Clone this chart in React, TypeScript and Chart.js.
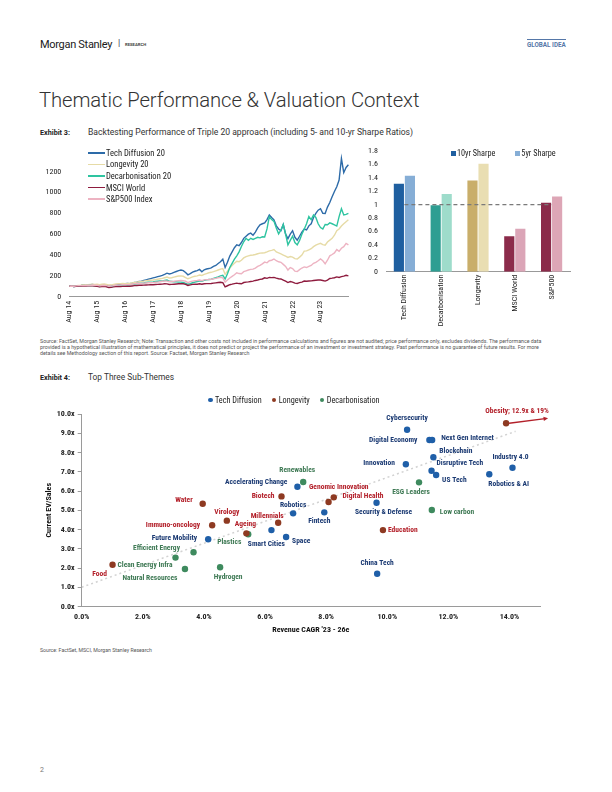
import React, { useEffect, useRef } from 'react';
import { Chart, registerables } from 'chart.js';

Chart.register(...registerables);

const COND = "'Liberation Sans Narrow', 'Roboto Condensed', 'Roboto', sans-serif";

// ---------------- Exhibit 3 (left): backtest index levels, monthly Aug 14 - Aug 24 ----------------
const monthNames = ['Jan', 'Feb', 'Mar', 'Apr', 'May', 'Jun', 'Jul', 'Aug', 'Sep', 'Oct', 'Nov', 'Dec'];
const lineLabels: string[] = [];
for (let i = 0; i <= 120; i++) {
  lineLabels.push(`${monthNames[(7 + i) % 12]} ${14 + Math.floor((7 + i) / 12)}`);
}
const lineYTicks = [0, 200, 400, 600, 800, 1000, 1200];

const techDiffusion20 = [
  100, 102, 98, 104, 106, 108, 112, 110, 114, 116, 118, 112,
  108, 105, 112, 115, 110, 102, 104, 108, 112, 114, 116, 120,
  124, 126, 125, 130, 136, 140, 146, 150, 156, 162, 168, 174,
  180, 186, 192, 198, 204, 214, 226, 218, 224, 234, 242, 250,
  256, 250, 232, 210, 222, 236, 244, 250, 262, 240, 258, 266,
  270, 276, 290, 300, 318, 336, 360, 280, 330, 390, 430, 470,
  497, 490, 520, 560, 580, 600, 610, 590, 620, 660, 690, 700,
  708, 740, 784, 760, 738, 680, 650, 633, 693, 600, 557, 600,
  633, 570, 542, 580, 620, 648, 640, 680, 700, 760, 800, 830,
  844, 800, 799, 860, 904, 960, 1010, 1055, 1120, 1326, 1190, 1240,
  1266,
];
const longevity20 = [
  100, 103, 101, 105, 108, 110, 114, 113, 116, 118, 120, 118,
  120, 116, 120, 122, 118, 112, 114, 118, 122, 124, 124, 126,
  125, 126, 128, 132, 136, 140, 144, 146, 150, 154, 156, 158,
  160, 164, 168, 172, 176, 182, 188, 180, 182, 188, 194, 198,
  200, 196, 184, 172, 180, 190, 196, 200, 208, 204, 214, 222,
  230, 234, 240, 248, 256, 264, 270, 215, 245, 275, 300, 320,
  340, 336, 350, 372, 385, 392, 398, 400, 405, 412, 418, 420,
  422, 430, 440, 445, 452, 430, 420, 410, 400, 390, 377, 385,
  380, 365, 362, 380, 400, 437, 440, 450, 460, 480, 495, 505,
  512, 500, 495, 525, 543, 560, 590, 633, 650, 678, 700, 720,
  738,
];
const decarbonisation20 = [
  100, 101, 98, 102, 104, 105, 108, 106, 108, 110, 108, 104,
  102, 98, 104, 106, 100, 94, 96, 100, 104, 106, 108, 110,
  112, 114, 112, 116, 120, 124, 128, 130, 132, 136, 138, 140,
  142, 146, 148, 150, 152, 156, 160, 148, 146, 144, 142, 140,
  140, 136, 128, 120, 126, 134, 140, 146, 152, 148, 156, 162,
  165, 168, 175, 182, 190, 200, 205, 170, 220, 280, 320, 360,
  392, 430, 482, 527, 560, 540, 560, 550, 560, 570, 565, 575,
  573, 650, 769, 740, 723, 660, 603, 640, 693, 600, 497, 540,
  580, 520, 497, 540, 600, 648, 700, 769, 740, 784, 760, 700,
  663, 650, 693, 690, 708, 700, 690, 678, 769, 844, 784, 790,
  799,
];
const msciWorld = [
  100, 101, 98, 100, 101, 101, 103, 102, 104, 104, 105, 102,
  100, 94, 97, 99, 95, 88, 90, 94, 97, 97, 98, 99,
  100, 100, 100, 103, 106, 108, 110, 110, 111, 112, 113, 114,
  115, 117, 118, 120, 121, 124, 123, 117, 118, 120, 122, 124,
  125, 124, 118, 108, 114, 118, 119, 120, 124, 120, 124, 125,
  125, 127, 130, 133, 136, 138, 135, 95, 105, 115, 120, 126,
  130, 126, 124, 136, 140, 142, 146, 150, 156, 160, 166, 170,
  181, 176, 185, 183, 185, 178, 172, 170, 160, 150, 136, 145,
  140, 130, 127, 135, 140, 150, 148, 150, 152, 155, 158, 160,
  160, 155, 150, 160, 175, 178, 182, 190, 185, 192, 198, 205,
  200,
];
const sp500Index = [
  100, 102, 100, 104, 106, 106, 108, 108, 110, 110, 112, 110,
  110, 104, 108, 110, 106, 100, 102, 106, 110, 111, 112, 114,
  115, 116, 116, 120, 124, 126, 128, 128, 130, 132, 134, 134,
  135, 138, 140, 144, 148, 152, 150, 144, 146, 148, 152, 154,
  155, 154, 148, 135, 144, 150, 154, 155, 160, 154, 162, 164,
  165, 168, 172, 176, 182, 186, 180, 140, 160, 180, 195, 210,
  230, 222, 220, 240, 248, 256, 262, 264, 275, 290, 300, 315,
  332, 325, 345, 350, 362, 345, 335, 330, 310, 290, 256, 280,
  270, 245, 241, 260, 275, 286, 280, 290, 300, 320, 330, 345,
  362, 345, 316, 350, 392, 405, 420, 452, 435, 465, 480, 512,
  497,
];
const lineSeriesNames = ['Tech Diffusion 20', 'Longevity 20', 'Decarbonisation 20', 'MSCI World', 'S&P500 Index'];
const lineSeriesColors = ['#2D6BA8', '#E6DBA6', '#2EC4A0', '#8E1B3E', '#EDB3C2'];
const lineSeriesData = [techDiffusion20, longevity20, decarbonisation20, msciWorld, sp500Index];

// ---------------- Exhibit 3 (right): Sharpe ratios ----------------
const sharpeCategories = ['Tech Diffusion', 'Decarbonisation', 'Longevity', 'MSCI World', 'S&P500'];
const sharpe10yr = [1.31, 0.99, 1.36, 0.53, 1.03];
const sharpe5yr = [1.43, 1.16, 1.61, 0.64, 1.12];
const sharpeReference = [1, 1, 1, 1, 1];
const sharpe10yrColors = ['#1F5FA0', '#2E9E92', '#C9AE6A', '#8B2B4A', '#8B2B4A'];
const sharpe5yrColors = ['#86AED6', '#9EDCCB', '#E9DEB2', '#DBA5B7', '#DDA6B6'];
const sharpeYTicks = [0, 0.2, 0.4, 0.6, 0.8, 1, 1.2, 1.4, 1.6, 1.8];

// ---------------- Exhibit 4: sub-themes scatter ----------------
const techNames = ['Cybersecurity', 'Digital Economy', 'Next Gen Internet', 'Blockchain', 'Innovation', 'Disruptive Tech', 'US Tech', 'Industry 4.0', 'Robotics & AI', 'Security & Defense', 'Fintech', 'Robotics', 'Accelerating Change', 'Smart Cities', 'Space', 'Future Mobility', 'China Tech'];
const techCagr = [10.65, 11.38, 11.47, 11.51, 10.61, 11.45, 11.6, 14.1, 13.34, 9.65, 7.94, 6.92, 7.06, 6.21, 6.69, 4.14, 9.67];
const techEvSales = [9.18, 8.65, 8.65, 7.75, 7.39, 7.05, 6.83, 7.21, 6.87, 5.39, 4.89, 4.84, 6.22, 3.97, 3.61, 3.49, 1.7];

const longevityNames = ['Obesity; 12.9x & 19%', 'Genomic Innovation', 'Digital Health', 'Education', 'Biotech', 'Millennials', 'Water', 'Virology', 'Immuno-oncology', 'Ageing', 'Food'];
const longevityCagr = [13.89, 8.25, 8.08, 9.86, 6.54, 6.43, 3.96, 4.75, 4.27, 5.39, 1.01];
const longevityEvSales = [9.52, 5.67, 5.43, 3.97, 5.72, 4.35, 5.34, 4.46, 4.22, 3.8, 2.17];

const decarbNames = ['Renewables', 'ESG Leaders', 'Low carbon', 'Plastics', 'Efficient Energy', 'Clean Energy Infra', 'Natural Resources', 'Hydrogen'];
const decarbCagr = [7.25, 11.04, 11.46, 5.45, 3.07, 3.66, 3.38, 4.53];
const decarbEvSales = [6.47, 6.45, 5.01, 3.75, 2.54, 2.82, 1.95, 2.04];

const trendCagr = [0, 14.2];
const trendEvSales = [1.0, 9.1];

const scatterXTicks = [0, 2, 4, 6, 8, 10, 12, 14];
const scatterYTicks = [0, 1, 2, 3, 4, 5, 6, 7, 8, 9, 10];

// label placement (pixel offset from the point, text alignment)
type Place = [number, number, CanvasTextAlign];
const techLabelPlace: Place[] = [
  [0, -12, 'center'], [-12, 0, 'right'], [9, -2, 'left'], [6, -6, 'left'], [-11, -1, 'right'],
  [5, -8, 'left'], [6, 5, 'left'], [-2, -11, 'center'], [-1, 10, 'left'], [7, 9, 'center'],
  [-5, 9, 'center'], [0, -8, 'center'], [-10, -5, 'right'], [-5, 14, 'center'], [6, 4, 'left'],
  [-11, -1, 'right'], [0, -11, 'center'],
];
const longevityLabelPlace: Place[] = [
  [11, -12, 'center'], [5, -10, 'center'], [14, -6, 'left'], [5, 0, 'left'], [-7, 0, 'right'],
  [-11, -7, 'center'], [-10, -4, 'right'], [0, -9, 'center'], [-12, 0, 'right'], [-1, -9, 'center'],
  [-13, 9, 'center'],
];
const decarbLabelPlace: Place[] = [
  [-6, -12, 'center'], [-8, 10, 'center'], [8, 2, 'left'], [-19, 8, 'center'], [-19, -9, 'center'],
  [-76, 13, 'left'], [-35, 9, 'center'], [8, 10, 'center'],
];

const exhibit3Source =
  'Source: FactSet, Morgan Stanley Research; Note: Transaction and other costs not included in performance calculations and figures are not audited; price performance only, excludes dividends. The performance data';
const exhibit3Source2 =
  'provided is a hypothetical illustration of mathematical principles, it does not predict or project the performance of an investment or investment strategy. Past performance is no guarantee of future results. For more';
const exhibit3Source3 = 'details see Methodology section of this report. Source: Factset, Morgan Stanley Research';

function LineChart() {
  const ref = useRef<HTMLCanvasElement | null>(null);
  useEffect(() => {
    if (!ref.current) return;
    const chart = new Chart(ref.current, {
      type: 'line',
      data: {
        labels: lineLabels,
        datasets: lineSeriesData.map((d, i) => ({
          label: lineSeriesNames[i],
          data: d,
          borderColor: lineSeriesColors[i],
          backgroundColor: lineSeriesColors[i],
          borderWidth: 1.4,
          pointRadius: 0,
          tension: 0,
          order: 5 - i,
        })),
      },
      options: {
        animation: false,
        responsive: false,
        layout: { padding: { top: 4, right: 5, left: 0, bottom: 0 } },
        plugins: { legend: { display: false }, tooltip: { enabled: false } },
        scales: {
          x: {
            grid: { display: false, drawTicks: false },
            border: { display: true, color: '#999' },
            ticks: {
              autoSkip: false,
              maxRotation: 90,
              minRotation: 90,
              padding: 4,
              color: '#222',
              font: { family: COND, size: 8 },
              callback: (_v: any, i: number) => (i % 12 === 0 && i <= 108 ? lineLabels[i] : ''),
            },
            afterFit: (s: any) => { s.height = 37.3; },
          },
          y: {
            min: 0,
            max: 1400,
            grid: { display: false, drawTicks: false },
            border: { display: false },
            afterBuildTicks: (s: any) => { s.ticks = lineYTicks.map((v) => ({ value: v })); },
            ticks: { padding: 8, color: '#222', font: { family: COND, size: 8 }, callback: (v: any) => String(v) },
            afterFit: (s: any) => { s.width = 29.3; },
          },
        },
      },
    });
    return () => chart.destroy();
  }, []);
  return <canvas ref={ref} width={322} height={196} style={{ position: 'absolute', left: 40, top: 138, width: 322, height: 196 }} />;
}

function BarChart() {
  const ref = useRef<HTMLCanvasElement | null>(null);
  useEffect(() => {
    if (!ref.current) return;
    const chart = new Chart(ref.current, {
      type: 'bar',
      data: {
        labels: sharpeCategories,
        datasets: [
          {
            type: 'line' as const,
            label: 'ref',
            data: sharpeReference,
            borderColor: '#7a7a7a',
            borderDash: [4, 3],
            borderWidth: 1.2,
            pointRadius: 0,
            order: 0,
          },
          {
            label: '10yr Sharpe',
            data: sharpe10yr,
            backgroundColor: sharpe10yrColors,
            categoryPercentage: 0.6,
            barPercentage: 0.92,
            order: 1,
          },
          {
            label: '5yr Sharpe',
            data: sharpe5yr,
            backgroundColor: sharpe5yrColors,
            categoryPercentage: 0.6,
            barPercentage: 0.92,
            order: 1,
          },
        ] as any,
      },
      options: {
        animation: false,
        responsive: false,
        layout: { padding: { top: 13, right: 12, left: 0, bottom: 0 } },
        plugins: { legend: { display: false }, tooltip: { enabled: false } },
        scales: {
          x: {
            grid: { display: false, drawTicks: false },
            border: { display: true, color: '#999' },
            ticks: {
              maxRotation: 90,
              minRotation: 90,
              padding: 3,
              color: '#222',
              font: { family: COND, size: 8 },
            },
            afterFit: (s: any) => { s.height = 66.3; },
          },
          y: {
            min: 0,
            max: 1.8,
            grid: { display: false, drawTicks: false },
            border: { display: false },
            afterBuildTicks: (s: any) => { s.ticks = sharpeYTicks.map((v) => ({ value: v })); },
            ticks: {
              padding: 8,
              color: '#222',
              font: { family: COND, size: 8 },
              callback: (v: any) => String(Math.round(Number(v) * 10) / 10),
            },
            afterFit: (s: any) => { s.width = 24; },
          },
        },
      },
    });
    return () => chart.destroy();
  }, []);
  return <canvas ref={ref} width={220} height={200} style={{ position: 'absolute', left: 362, top: 138, width: 220, height: 200 }} />;
}

const scatterGroups = [
  { names: techNames, place: techLabelPlace, labelColor: '#1B3A73' },
  { names: longevityNames, place: longevityLabelPlace, labelColor: '#B3202A' },
  { names: decarbNames, place: decarbLabelPlace, labelColor: '#3F7A55' },
];

const pointLabelPlugin = {
  id: 'pointLabels',
  afterDatasetsDraw(chart: any) {
    const ctx = chart.ctx as CanvasRenderingContext2D;
    scatterGroups.forEach((g, di) => {
      const meta = chart.getDatasetMeta(di);
      meta.data.forEach((pt: any, i: number) => {
        const [dx, dy, align] = g.place[i];
        ctx.save();
        ctx.font = `bold 7.5px ${COND}`;
        ctx.fillStyle = g.labelColor;
        ctx.textAlign = align;
        ctx.textBaseline = 'middle';
        ctx.fillText(g.names[i], pt.x + dx, pt.y + dy);
        ctx.restore();
      });
    });
    // off-scale arrow for the first longevity point (Obesity)
    const ob = chart.getDatasetMeta(1).data[0];
    if (ob) {
      const x0 = ob.x + 3;
      const y0 = ob.y;
      const x1 = ob.x + 42;
      const y1 = ob.y - 5;
      ctx.save();
      ctx.strokeStyle = '#B3202A';
      ctx.fillStyle = '#B3202A';
      ctx.lineWidth = 1.3;
      ctx.beginPath();
      ctx.moveTo(x0, y0);
      ctx.lineTo(x1 - 3, y1 + 0.4);
      ctx.stroke();
      const ang = Math.atan2(y1 - y0, x1 - x0);
      ctx.beginPath();
      ctx.moveTo(x1, y1);
      ctx.lineTo(x1 - 5 * Math.cos(ang - 0.45), y1 - 5 * Math.sin(ang - 0.45));
      ctx.lineTo(x1 - 5 * Math.cos(ang + 0.45), y1 - 5 * Math.sin(ang + 0.45));
      ctx.closePath();
      ctx.fill();
      ctx.restore();
    }
  },
};

function ScatterChart() {
  const ref = useRef<HTMLCanvasElement | null>(null);
  useEffect(() => {
    if (!ref.current) return;
    const pts = (xs: number[], ys: number[]) => xs.map((x, i) => ({ x, y: ys[i] }));
    const chart = new Chart(ref.current, {
      type: 'scatter',
      data: {
        datasets: [
          { label: 'Tech Diffusion', data: pts(techCagr, techEvSales), backgroundColor: '#1F5FA8', pointRadius: 3.2, borderWidth: 0, order: 1 },
          { label: 'Longevity', data: pts(longevityCagr, longevityEvSales), backgroundColor: '#8E3A22', pointRadius: 3.2, borderWidth: 0, order: 1 },
          { label: 'Decarbonisation', data: pts(decarbCagr, decarbEvSales), backgroundColor: '#3E8A5E', pointRadius: 3.2, borderWidth: 0, order: 1 },
          {
            type: 'line' as const,
            label: 'trend',
            data: pts(trendCagr, trendEvSales),
            borderColor: '#d2d2d2',
            borderDash: [2, 3],
            borderWidth: 1.5,
            pointRadius: 0,
            order: 10,
          },
        ] as any,
      },
      options: {
        animation: false,
        responsive: false,
        layout: { padding: { top: 26, right: 48, left: 0, bottom: 0 } },
        plugins: { legend: { display: false }, tooltip: { enabled: false } },
        scales: {
          x: {
            type: 'linear',
            min: 0,
            max: 15,
            grid: { display: false, drawTicks: false },
            border: { display: true, color: '#9a9a9a', dash: [4, 3] },
            afterBuildTicks: (s: any) => { s.ticks = scatterXTicks.map((v) => ({ value: v })); },
            ticks: {
              padding: 6,
              color: '#222',
              font: { family: COND, size: 8, weight: 'bold' },
              callback: (v: any) => Number(v).toFixed(1) + '%',
            },
            title: {
              display: true,
              text: "Revenue CAGR '23 - 26e",
              color: '#111',
              font: { family: COND, size: 8, weight: 'bold' },
              padding: { top: 2, bottom: 5 },
            },
            afterFit: (s: any) => { s.height = 33.5; },
          },
          y: {
            type: 'linear',
            min: 0,
            max: 10,
            grid: { display: true, drawOnChartArea: false, drawTicks: true, tickLength: 4, color: '#9a9a9a' },
            border: { display: true, color: '#9a9a9a', dash: [4, 3] },
            afterBuildTicks: (s: any) => { s.ticks = scatterYTicks.map((v) => ({ value: v })); },
            ticks: {
              padding: 3,
              color: '#222',
              font: { family: COND, size: 8, weight: 'bold' },
              callback: (v: any) => Number(v).toFixed(1) + 'x',
            },
            title: {
              display: true,
              text: 'Current EV/Sales',
              color: '#111',
              font: { family: COND, size: 8, weight: 'bold' },
              padding: { top: 4, bottom: 2 },
            },
            afterFit: (s: any) => { s.width = 41.7; },
          },
        },
      },
      plugins: [pointLabelPlugin],
    });
    return () => chart.destroy();
  }, []);
  return <canvas ref={ref} width={548} height={252} style={{ position: 'absolute', left: 40, top: 388, width: 548, height: 252 }} />;
}

const scatterLegend = [
  { name: 'Tech Diffusion', color: '#1F5FA8' },
  { name: 'Longevity', color: '#8E3A22' },
  { name: 'Decarbonisation', color: '#3E8A5E' },
];

export default function App() {
  const small: React.CSSProperties = { position: 'absolute', whiteSpace: 'nowrap' };
  return (
    <div style={{ position: 'absolute', left: 0, top: 0, width: 612, height: 792, background: '#fff', fontFamily: 'Roboto, sans-serif', color: '#222', overflow: 'hidden' }}>
      {/* header */}
      <div style={{ ...small, left: 40, top: 37.5, fontSize: 11, color: '#1a1a1a', letterSpacing: -0.3 }}>Morgan Stanley</div>
      <div style={{ ...small, left: 118, top: 38, fontSize: 9, color: '#333' }}>|</div>
      <div style={{ ...small, left: 125, top: 41.5, fontSize: 4.2, fontWeight: 700, color: '#444' }}>RESEARCH</div>
      <div style={{ ...small, left: 527, top: 38.5, fontSize: 6.3, fontWeight: 700, color: '#5577A8', borderTop: '1px solid #5577A8', paddingTop: 1.5 }}>GLOBAL IDEA</div>

      <div style={{ ...small, left: 39, top: 88, fontSize: 20.3, fontWeight: 300, color: '#333', letterSpacing: -0.1 }}>Thematic Performance &amp; Valuation Context</div>

      <div style={{ ...small, left: 40, top: 127.5, fontSize: 7.2, color: '#222' }}>
        <span style={{ fontWeight: 700 }}>Exhibit 3:</span>
        <span style={{ position: 'absolute', left: 48, top: -0.8, fontWeight: 400, fontSize: 8.6, color: '#333' }}>Backtesting Performance of Triple 20 approach (including 5- and 10-yr Sharpe Ratios)</span>
      </div>

      <LineChart />
      {/* line legend */}
      <div style={{ position: 'absolute', left: 88, top: 147 }}>
        {lineSeriesNames.map((n, i) => (
          <div key={n} style={{ display: 'flex', alignItems: 'center', height: 11.6, fontFamily: COND, fontSize: 8.5, color: '#222' }}>
            <span style={{ display: 'inline-block', width: 17, height: 1.5, background: lineSeriesColors[i], marginRight: 1 }} />
            {n}
          </div>
        ))}
      </div>

      <BarChart />
      {/* bar legend */}
      <div style={{ ...small, left: 451, top: 148, display: 'flex', alignItems: 'center', fontFamily: COND, fontSize: 8.2, color: '#222' }}>
        <span style={{ display: 'inline-block', width: 5, height: 5, background: '#1F5FA0', marginRight: 1 }} />
        10yr Sharpe
        <span style={{ display: 'inline-block', width: 5, height: 5, background: '#86AED6', marginLeft: 20, marginRight: 1 }} />
        5yr Sharpe
      </div>

      <div style={{ position: 'absolute', left: 40, top: 338, fontSize: 5.3, lineHeight: '6px', color: '#555', whiteSpace: 'nowrap' }}>
        {exhibit3Source}
        <br />
        {exhibit3Source2}
        <br />
        {exhibit3Source3}
      </div>

      <div style={{ ...small, left: 40, top: 373, fontSize: 7.2, color: '#222' }}>
        <span style={{ fontWeight: 700 }}>Exhibit 4:</span>
        <span style={{ position: 'absolute', left: 48, top: -0.8, fontWeight: 400, fontSize: 8.4, color: '#333' }}>Top Three Sub-Themes</span>
      </div>

      <ScatterChart />
      {/* scatter legend */}
      <div style={{ ...small, left: 208, top: 395, display: 'flex', alignItems: 'center', fontFamily: COND, fontSize: 8.2, color: '#222' }}>
        {scatterLegend.map((l, i) => (
          <span key={l.name} style={{ display: 'inline-flex', alignItems: 'center', marginLeft: i === 0 ? 0 : 10 }}>
            <span style={{ display: 'inline-block', width: 4.5, height: 4.5, borderRadius: '50%', background: l.color, marginRight: 2.5 }} />
            {l.name}
          </span>
        ))}
      </div>

      <div style={{ ...small, left: 40, top: 647, fontSize: 5.2, color: '#555' }}>Source: FactSet, MSCI, Morgan Stanley Research</div>
      <div style={{ ...small, left: 40, top: 766, fontSize: 7, color: '#777' }}>2</div>
    </div>
  );
}
